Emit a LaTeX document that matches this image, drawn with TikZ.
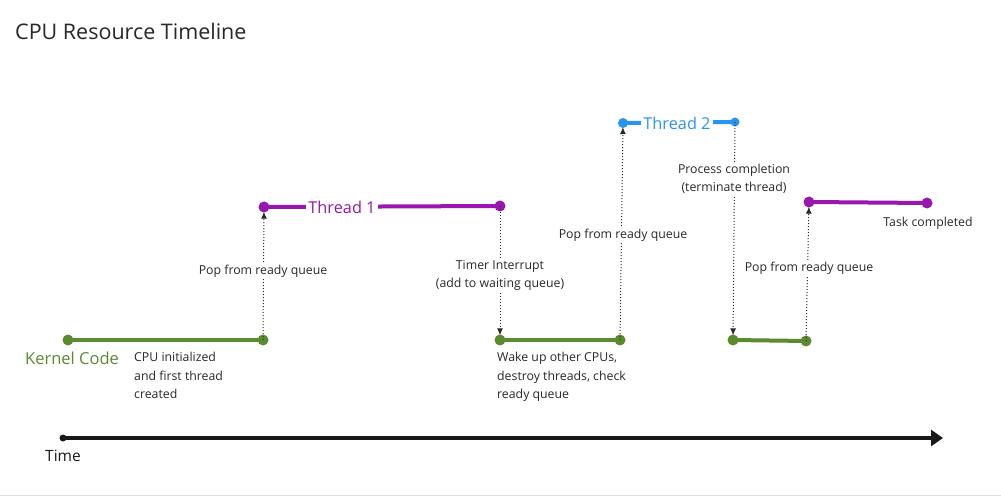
\documentclass[tikz,border=0pt]{standalone}
\usepackage{fontspec}
\setmainfont{Open Sans}
\usetikzlibrary{arrows.meta}
\definecolor{kgreen}{RGB}{91,138,48}
\definecolor{tpurple}{RGB}{153,22,175}
\definecolor{tblue}{RGB}{40,150,240}
\definecolor{axisblack}{RGB}{25,25,25}
\definecolor{txt}{RGB}{40,40,40}
\tikzset{
  dotnode/.style={circle,inner sep=0pt,minimum size=11pt},
  gdot/.style={dotnode,fill=kgreen},
  pdot/.style={dotnode,fill=tpurple},
  bdot/.style={dotnode,fill=tblue,minimum size=10pt},
  seg/.style={line width=4pt},
  evt/.style={dotted,line width=1pt,draw=txt,-{Latex[length=7pt,width=6pt]},shorten >=-1pt},
  lbl/.style={font=\fontsize{12.3}{18}\selectfont,text=txt,fill=white,inner sep=1.5pt,align=center},
  note/.style={font=\fontsize{12.3}{18.5}\selectfont,text=txt,align=left,inner sep=0pt,anchor=north west},
  big/.style={font=\fontsize{16.3}{18}\selectfont,fill=white,inner sep=2pt}
}
\begin{document}
\begin{tikzpicture}[x=1pt,y=-1pt]
\useasboundingbox (0,0) rectangle (1001,497);
\fill[white] (0,0) rectangle (1001,497);
\draw[gray!25,line width=1pt] (0,495) -- (1001,495);

\node[anchor=west,inner sep=0pt,font=\fontsize{21.5}{24}\selectfont,text=txt] (title) at (15,31) {CPU Resource Timeline};

% kernel segment 1
\node[gdot] (k1a) at (68,340) {};
\node[gdot] (k1b) at (263,340) {};
\draw[seg,kgreen] (k1a.center) -- (k1b.center);
\node[anchor=west,inner sep=0pt,font=\fontsize{16.5}{18}\selectfont,text=kgreen] (kc) at (25,358) {Kernel Code};
\node[note] (n1) at (134,352) {CPU initialized\\and first thread\\created};

% thread 1
\node[pdot] (t1a) at (264,207) {};
\node[pdot] (t1b) at (500,206) {};
\draw[seg,tpurple] (t1a.center) -- (t1b.center);
\node[big,text=tpurple] (t1l) at (342,207) {Thread 1};

\draw[evt] (k1b.center) -- (t1a);
\node[lbl] (l1) at (263,271) {Pop from ready queue};

% kernel segment 2
\node[gdot] (k2a) at (500,340) {};
\node[gdot] (k2b) at (620,340) {};
\draw[seg,kgreen] (k2a.center) -- (k2b.center);
\node[note] (n2) at (497,352) {Wake up other CPUs,\\destroy threads, check\\ready queue};

\draw[evt] (t1b.center) -- (k2a);
\node[lbl] (l2) at (500,275) {Timer Interrupt\\(add to waiting queue)};

% thread 2
\node[bdot] (t2a) at (623,123) {};
\node[bdot,minimum size=9pt] (t2b) at (735,122) {};
\draw[seg,tblue] (t2a.center) -- (t2b.center);
\node[big,text=tblue] (t2l) at (677,123) {Thread 2};

\draw[evt] (k2b.center) -- (t2a);
\node[lbl] (l3) at (623,235) {Pop from ready queue};

% kernel segment 3
\node[gdot] (k3a) at (733,340) {};
\node[gdot] (k3b) at (806,341) {};
\draw[seg,kgreen] (k3a.center) -- (k3b.center);

\draw[evt] (t2b.center) -- (k3a);
\node[lbl] (l4) at (734,179) {Process completion\\(terminate thread)};

% thread 1 resumed
\node[pdot] (t3a) at (809,202) {};
\node[pdot] (t3b) at (927,203) {};
\draw[seg,tpurple] (t3a.center) -- (t3b.center);
\node[lbl,fill=none] (l6) at (928,223) {Task completed};

\draw[evt] (k3b.center) -- (t3a);
\node[lbl] (l5) at (809,268) {Pop from ready queue};

% time axis
\node[circle,fill=axisblack,inner sep=0pt,minimum size=7pt] (ta) at (63,438) {};
\coordinate (tb) at (943,438);
\draw[line width=3.5pt,axisblack,-{Triangle[length=12pt,width=16pt]}] (ta.center) -- (tb);
\node[anchor=west,inner sep=0pt,font=\fontsize{15.5}{16}\selectfont,text=axisblack] (time) at (45,456) {Time};
\end{tikzpicture}
\end{document}
